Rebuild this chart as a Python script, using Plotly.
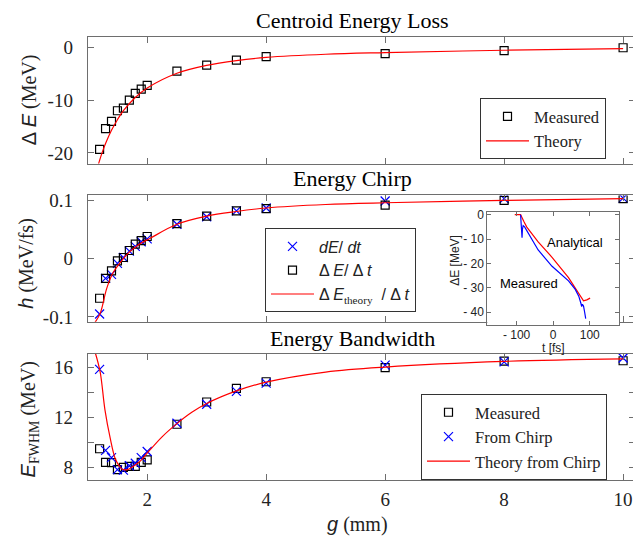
import plotly.graph_objects as go

# ---------------- data ----------------
g = [1.2, 1.3, 1.4, 1.5, 1.6, 1.7, 1.8, 1.9, 2.0, 2.5, 3.0, 3.5, 4.0, 6.0, 8.0, 10.0]

dE_measured = [-19.3, -15.4, -14.0, -12.0, -11.5, -10.0, -8.7, -7.9, -7.2, -4.5, -3.35, -2.4, -1.75, -1.2, -0.63, -0.07]
theory_dE_g = [1.17, 1.2, 1.25, 1.3, 1.4, 1.5, 1.6, 1.8, 2.0, 2.5, 3.0, 3.5, 4.0, 5.0, 6.0, 8.0, 10.0]
theory_dE = [-22.6, -21.4, -19.7, -18.2, -15.7, -13.7, -12.0, -9.5, -7.7, -4.9, -3.4, -2.5, -1.9, -1.3, -1.0, -0.55, -0.25]

h_dEdt = [-0.095, -0.034, -0.027, -0.008, 0.002, 0.013, 0.021, 0.029, 0.034, 0.059, 0.072, 0.082, 0.087, 0.099, 0.103, 0.104]
h_measured = [-0.068, -0.034, -0.021, -0.004, 0.002, 0.014, 0.025, 0.031, 0.038, 0.060, 0.073, 0.082, 0.086, 0.092, 0.100, 0.103]
theory_h_g = [1.12, 1.21, 1.32, 1.43, 1.546, 1.686, 1.854, 2.05, 2.5, 3.0, 3.5, 4.0, 5.0, 6.0, 8.0, 10.0]
theory_h = [-0.11, -0.094, -0.051, -0.0235, -0.0067, 0.010, 0.024, 0.035, 0.059, 0.073, 0.081, 0.087, 0.093, 0.096, 0.100, 0.103]

bw_measured = [9.5, 8.41, 8.4, 7.84, 8.02, 8.1, 8.1, 8.41, 8.62, 11.45, 13.22, 14.3, 14.83, 15.95, 16.47, 16.5]
bw_chirp = [15.82, 9.37, 8.8, 7.84, 7.8, 8.15, 8.35, 8.8, 9.28, 11.53, 13.04, 14.07, 14.72, 16.15, 16.41, 16.72]
theory_bw_g = [1.13, 1.21, 1.29, 1.38, 1.46, 1.52, 1.57, 1.62, 1.68, 1.8, 1.9, 2.0, 2.25, 2.5, 2.75, 3.0, 3.5, 4.0, 5.0, 6.0, 8.0, 10.0]
theory_bw = [17.1, 15.6, 12.6, 10.3, 8.75, 8.2, 7.9, 7.82, 7.86, 8.2, 8.6, 9.15, 10.45, 11.5, 12.4, 13.1, 14.1, 14.8, 15.6, 16.0, 16.45, 16.65]

# inset: energy profile vs time
inset_t_analytical = [-105, -89, -80, -72, -41, -3, 42, 69, 83, 92, 101]
inset_E_analytical = [0, 0, -2.8, -5.1, -11.2, -17.5, -25.9, -31.9, -35.4, -35.0, -34.3]
inset_t_measured = [-89, -87, -85, -84, -82, -78, -67, -41, -3, 42, 60, 70, 76, 78, 80, 83, 86, 89]
inset_E_measured = [0, -5, -9.5, -6, -4.5, -5, -7.8, -14.5, -21.2, -27.2, -30.6, -33.5, -36.5, -37.8, -36.8, -37.5, -40, -42.7]

x_ticks = [2, 4, 6, 8, 10]
x_ticklabels = ["2", "4", "6", "8", "10"]
y1_ticks = [-20, -10, 0]
y1_ticklabels = ["-20", "-10", "0"]
y2_ticks = [-0.1, 0, 0.1]
y2_ticklabels = ["-0.1", "0", "0.1"]
y3_ticks = [8, 12, 16]
y3_ticklabels = ["8", "12", "16"]
y3_minor_ticks = [10, 14]
inset_x_ticks = [-100, 0, 100]
inset_x_ticklabels = ["- 100", "0", "100"]
inset_y_ticks = [-40, -30, -20, -10, 0]
inset_y_ticklabels = ["- 40", "- 30", "- 20", "- 10", "0"]

# ---------------- style ----------------
# the page body has an 8px margin, so the figure is drawn 8px smaller and
# all reference pixel positions are shifted by that offset.
OFF = 8
W, H = 641 - OFF, 543 - OFF
SERIF = "Liberation Serif"
SANS = "Liberation Sans"
AX = "#6e6e6e"
TXT = "#222222"
RED = "#ff0000"
BLUE = "#0000ff"

def px(x):
    return (x - OFF) / W

def py(y):
    return 1 - (y - OFF) / H

xdom = [px(87.7), px(635)]
dom_top = [py(161.7), py(32.3)]
dom_mid = [py(323.3), py(194.3)]
dom_bot = [py(485), py(356)]

sq = dict(symbol="square-open", size=8, color="black", line=dict(width=1.2, color="black"))
cx = dict(symbol="x-thin-open", size=9, color=BLUE, line=dict(width=1.2, color=BLUE))

fig = go.Figure()

# top panel
fig.add_trace(go.Scatter(x=g, y=dE_measured, mode="markers", marker=sq, name="Measured",
                         xaxis="x", yaxis="y", legend="legend"))
fig.add_trace(go.Scatter(x=theory_dE_g, y=theory_dE, mode="lines", line=dict(color=RED, width=1.2, shape="spline"),
                         name="Theory", xaxis="x", yaxis="y", legend="legend"))

# middle panel
fig.add_trace(go.Scatter(x=g, y=h_dEdt, mode="markers", marker=cx,
                         name='<span style="font-family:Liberation Sans"><i>dE</i>/ <i>dt</i></span>',
                         xaxis="x2", yaxis="y2", legend="legend2"))
fig.add_trace(go.Scatter(x=g, y=h_measured, mode="markers", marker=sq,
                         name='<span style="font-family:Liberation Sans">Δ <i>E</i>/ Δ <i>t</i></span>',
                         xaxis="x2", yaxis="y2", legend="legend2"))
fig.add_trace(go.Scatter(x=theory_h_g, y=theory_h, mode="lines", line=dict(color=RED, width=1.2, shape="spline"),
                         name='<span style="font-family:Liberation Sans">Δ <i>E</i></span><sub>theory</sub><span style="font-family:Liberation Sans">  / Δ <i>t</i></span>',
                         xaxis="x2", yaxis="y2", legend="legend2"))

# bottom panel
fig.add_trace(go.Scatter(x=g, y=bw_measured, mode="markers", marker=sq, name="Measured",
                         xaxis="x3", yaxis="y3", legend="legend3"))
fig.add_trace(go.Scatter(x=g, y=bw_chirp, mode="markers", marker=cx, name="From Chirp",
                         xaxis="x3", yaxis="y3", legend="legend3"))
fig.add_trace(go.Scatter(x=theory_bw_g, y=theory_bw, mode="lines", line=dict(color=RED, width=1.2, shape="spline"),
                         name="Theory from Chirp", xaxis="x3", yaxis="y3", legend="legend3"))

# inset
fig.add_trace(go.Scatter(x=inset_t_analytical, y=inset_E_analytical, mode="lines",
                         line=dict(color=RED, width=1.2), showlegend=False, xaxis="x4", yaxis="y4"))
fig.add_trace(go.Scatter(x=inset_t_measured, y=inset_E_measured, mode="lines",
                         line=dict(color=BLUE, width=1.2), showlegend=False, xaxis="x4", yaxis="y4"))

common_x = dict(domain=xdom, range=[1.0, 10.2], tickvals=x_ticks, ticktext=x_ticklabels,
                ticks="inside", ticklen=6, tickcolor=AX, showline=True, linecolor=AX, linewidth=1,
                mirror="ticks", showgrid=False, zeroline=False,
                tickfont=dict(family=SERIF, size=19, color=TXT))
common_y = dict(ticks="inside", ticklen=6, tickcolor=AX, showline=True, linecolor=AX, linewidth=1,
                mirror="ticks", showgrid=False, zeroline=False,
                tickfont=dict(family=SERIF, size=19, color=TXT), ticklabelstandoff=10)

legend_common = dict(xanchor="left", yanchor="top", bgcolor="white", bordercolor="#333333",
                     borderwidth=1, itemwidth=43, tracegroupgap=0)

fig.update_layout(
    width=W, height=H, margin=dict(l=0, r=0, t=0, b=0),
    paper_bgcolor="white", plot_bgcolor="white",
    xaxis=dict(common_x, anchor="y", showticklabels=False),
    yaxis=dict(common_y, domain=dom_top, anchor="x", range=[-22, 2], tickvals=y1_ticks, ticktext=y1_ticklabels),
    xaxis2=dict(common_x, anchor="y2", showticklabels=False),
    yaxis2=dict(common_y, domain=dom_mid, anchor="x2", range=[-0.1085, 0.1085], tickvals=y2_ticks, ticktext=y2_ticklabels),
    xaxis3=dict(common_x, anchor="y3", ticklabelstandoff=2),
    yaxis3=dict(common_y, domain=dom_bot, anchor="x3", range=[7, 17.05], tickvals=y3_ticks, ticktext=y3_ticklabels,
                minor=dict(tickvals=y3_minor_ticks, ticks="inside", ticklen=6, tickcolor=AX)),
    xaxis4=dict(domain=[px(487.3), px(619)], anchor="y4", range=[-180, 180],
                tickvals=inset_x_ticks, ticktext=inset_x_ticklabels,
                ticks="inside", ticklen=4, tickcolor=AX, showline=True, linecolor=AX, linewidth=1,
                mirror="ticks", showgrid=False, zeroline=False, ticklabelstandoff=-2,
                tickfont=dict(family=SANS, size=12, color=TXT)),
    yaxis4=dict(domain=[py(326.7), py(210.7)], anchor="x4", range=[-45.4, 1.3],
                tickvals=inset_y_ticks, ticktext=inset_y_ticklabels,
                ticks="inside", ticklen=4, tickcolor=AX, showline=True, linecolor=AX, linewidth=1,
                mirror="ticks", showgrid=False, zeroline=False,
                tickfont=dict(family=SANS, size=12, color=TXT)),
    legend=dict(legend_common, x=px(480), y=py(95), font=dict(family=SERIF, size=16.5, color=TXT)),
    legend2=dict(legend_common, x=px(265), y=py(228), font=dict(family=SERIF, size=16, color=TXT)),
    legend3=dict(legend_common, x=px(421), y=py(397), font=dict(family=SERIF, size=16.5, color=TXT)),
)

ann = []
# panel titles
for text, yc in [("Centroid Energy Loss", 16), ("Energy Chirp", 177), ("Energy Bandwidth", 340)]:
    ann.append(dict(text=text, x=px(352), y=py(yc), xref="paper", yref="paper", showarrow=False,
                    xanchor="center", yanchor="middle", font=dict(family=SERIF, size=22, color="black")))
# axis titles
ann.append(dict(text='<span style="font-family:Liberation Sans">Δ <i>E</i></span> (MeV)', x=px(29), y=py(97),
                xref="paper", yref="paper", showarrow=False, textangle=-90, xanchor="center", yanchor="middle",
                font=dict(family=SERIF, size=20, color=TXT)))
ann.append(dict(text='<span style="font-family:Liberation Sans"><i>h</i></span> (MeV/fs)', x=px(27), y=py(264),
                xref="paper", yref="paper", showarrow=False, textangle=-90, xanchor="center", yanchor="middle",
                font=dict(family=SERIF, size=20, color=TXT)))
ann.append(dict(text='<span style="font-family:Liberation Sans"><i>E</i></span><sub>FWHM</sub> (MeV)', x=px(29), y=py(423),
                xref="paper", yref="paper", showarrow=False, textangle=-90, xanchor="center", yanchor="middle",
                font=dict(family=SERIF, size=20, color=TXT)))
ann.append(dict(text='<span style="font-family:Liberation Sans"><i>g</i></span> (mm)', x=px(357), y=py(530.5),
                xref="paper", yref="paper", showarrow=False, xanchor="center", yanchor="middle",
                font=dict(family=SERIF, size=20, color=TXT)))
# inset labels
ann.append(dict(text="ΔE [MeV]", x=px(455), y=py(261), xref="paper", yref="paper", showarrow=False,
                textangle=-90, xanchor="center", yanchor="middle", font=dict(family=SANS, size=12, color=TXT)))
ann.append(dict(text="t [fs]", x=px(553), y=py(350), xref="paper", yref="paper", showarrow=False,
                xanchor="center", yanchor="middle", font=dict(family=SANS, size=12, color=TXT)))
ann.append(dict(text="Analytical", x=61, y=-11.5, xref="x4", yref="y4", showarrow=False,
                xanchor="center", yanchor="middle", font=dict(family=SANS, size=13, color="black")))
ann.append(dict(text="Measured", x=-66, y=-28.3, xref="x4", yref="y4", showarrow=False,
                xanchor="center", yanchor="middle", font=dict(family=SANS, size=13, color="black")))
fig.update_layout(annotations=ann)

fig.write_html("out.html")
